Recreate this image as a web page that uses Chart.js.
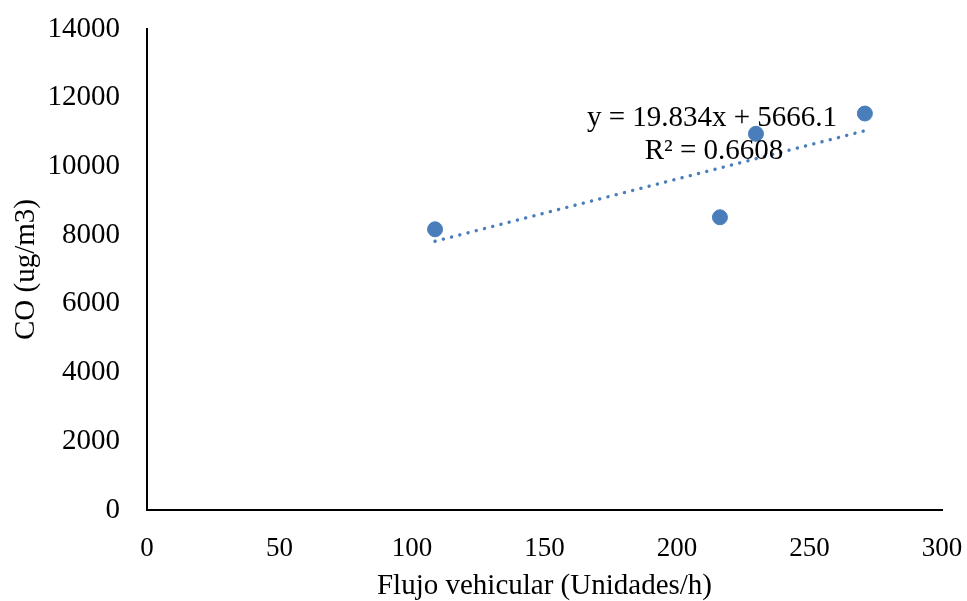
<!DOCTYPE html>
<html>
<head>
<meta charset="utf-8">
<script src="https://cdn.jsdelivr.net/npm/chart.js@4/dist/chart.umd.min.js"></script>
<style>
  html, body { margin: 0; padding: 0; background: #ffffff; }
  #wrap { width: 967px; height: 601px; }
</style>
</head>
<body>
<div id="wrap"><canvas id="c" width="967" height="601"></canvas></div>
<script>
// Vehicle flow (units/h) vs CO concentration (ug/m3)
const flujo = [108.7, 216.2, 229.8, 270.9];
const co = [8170, 8520, 10950, 11540];

// Linear trendline coefficients and fit quality
const pendiente = 19.834;
const intercepto = 5666.1;
const r2 = 0.6608;

const xTicks = [0, 50, 100, 150, 200, 250, 300];
const yTicks = [0, 2000, 4000, 6000, 8000, 10000, 12000, 14000];

const puntos = flujo.map((x, i) => ({ x: x, y: co[i] }));
const xMin = Math.min(...flujo), xMax = Math.max(...flujo);
const tendencia = [
  { x: xMin, y: pendiente * xMin + intercepto },
  { x: xMax, y: pendiente * xMax + intercepto }
];

const serif = '"Liberation Serif", "Times New Roman", serif';
const azul = '#4A7EBB';

// Equation and R² label drawn on top of the plot
const etiquetaEcuacion = {
  id: 'etiquetaEcuacion',
  afterDatasetsDraw(chart) {
    const { ctx, scales } = chart;
    const px = scales.x.getPixelForValue(213.2);
    ctx.save();
    ctx.fillStyle = '#000000';
    ctx.font = '29px ' + serif;
    ctx.textAlign = 'center';
    ctx.textBaseline = 'middle';
    ctx.fillText('y = ' + pendiente + 'x + ' + intercepto, px, scales.y.getPixelForValue(11400));
    ctx.fillText('R² = ' + r2, px + 2, scales.y.getPixelForValue(10440));
    ctx.restore();
  }
};

new Chart(document.getElementById('c'), {
  type: 'scatter',
  data: {
    datasets: [
      {
        label: 'CO',
        data: puntos,
        backgroundColor: azul,
        borderColor: azul,
        pointRadius: 7.5,
        pointHoverRadius: 7.5,
        order: 1
      },
      {
        label: 'Lineal',
        type: 'line',
        data: tendencia,
        borderColor: azul,
        borderWidth: 3.4,
        borderDash: [0.1, 8.4],
        borderCapStyle: 'round',
        pointRadius: 0,
        fill: false,
        order: 2
      }
    ]
  },
  options: {
    responsive: false,
    animation: false,
    devicePixelRatio: 1,
    layout: { padding: { top: 29, right: 25, left: 0, bottom: 0 } },
    plugins: {
      legend: { display: false },
      tooltip: { enabled: false }
    },
    scales: {
      x: {
        type: 'linear',
        min: 0,
        max: 300,
        afterBuildTicks(axis) { axis.ticks = xTicks.map(v => ({ value: v })); },
        afterFit(axis) {
          axis.height = 91;
          axis.paddingLeft = 0;
          axis.paddingRight = 0;
        },
        grid: { display: false, drawTicks: false },
        border: { display: true, color: '#000000', width: 2 },
        ticks: {
          color: '#000000',
          font: { family: serif, size: 27 },
          padding: 23,
          maxRotation: 0,
          callback: v => String(v)
        },
        title: {
          display: true,
          text: 'Flujo vehicular (Unidades/h)',
          color: '#000000',
          font: { family: serif, size: 29, lineHeight: 1.0 },
          padding: { top: 2, bottom: 0 }
        }
      },
      y: {
        type: 'linear',
        min: 0,
        max: 14000,
        afterBuildTicks(axis) { axis.ticks = yTicks.map(v => ({ value: v })); },
        afterFit(axis) {
          axis.width = 147;
          axis.paddingTop = 0;
          axis.paddingBottom = 0;
        },
        grid: { display: false, drawTicks: false },
        border: { display: true, color: '#000000', width: 2 },
        ticks: {
          color: '#000000',
          font: { family: serif, size: 29 },
          padding: 27,
          callback: v => String(v)
        },
        title: {
          display: true,
          text: 'CO (ug/m3)',
          color: '#000000',
          font: { family: serif, size: 29 },
          padding: { top: 9, bottom: 0 }
        }
      }
    }
  },
  plugins: [etiquetaEcuacion]
});
</script>
</body>
</html>
